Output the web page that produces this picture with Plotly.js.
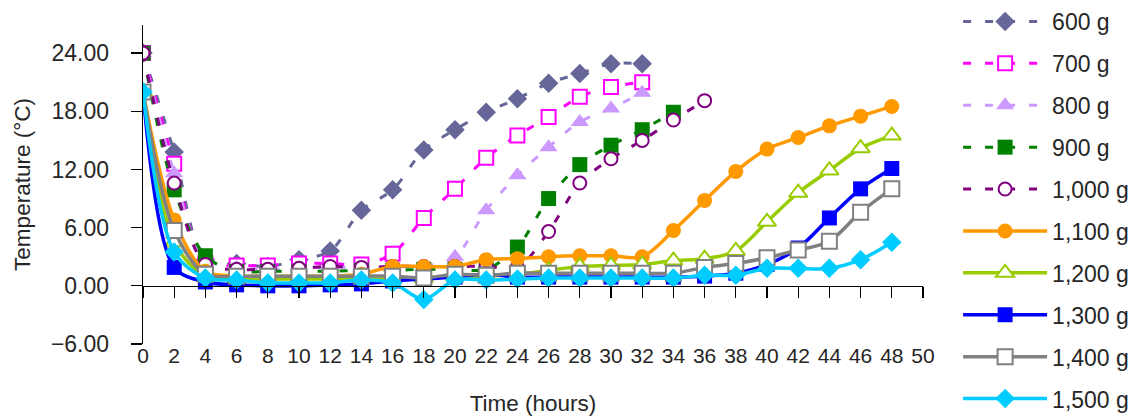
<!DOCTYPE html>
<html>
<head>
<meta charset="utf-8">
<script src="https://cdn.plot.ly/plotly-3.0.1.min.js"></script>
<style>html,body{margin:0;padding:0;background:#fff;}#chart{width:1133px;height:416px;}</style>
</head>
<body>
<div id="chart"></div>
<script>
// Time (hours)
var hours = [0,2,4,6,8,10,12,14,16,18,20,22,24,26,28,30,32,34,36,38,40,42,44,46,48];
var xTicks = [0,2,4,6,8,10,12,14,16,18,20,22,24,26,28,30,32,34,36,38,40,42,44,46,48,50];
var yTicks = [-6,0,6,12,18,24];
var seriesNames = ["600 g","700 g","800 g","900 g","1,000 g","1,100 g","1,200 g","1,300 g","1,400 g","1,500 g"];

// Temperature (°C) per mass
var t600  = [24.0,13.8,2.7,2.3,2.0,2.7,3.6,7.8,9.9,14.0,16.1,17.9,19.3,20.9,21.9,22.9,22.9];
var t700  = [24.0,12.6,2.3,2.1,2.1,2.3,2.3,2.2,3.3,7.0,10.0,13.2,15.5,17.4,19.5,20.5,21.0];
var t800  = [24.0,11.6,2.5,1.8,1.7,1.8,1.9,1.9,2.0,2.0,3.0,7.8,11.4,14.3,16.9,18.3,19.9];
var t900  = [24.0,9.9,3.1,1.5,1.5,1.5,1.5,1.6,1.6,1.7,1.7,1.7,4.0,9.0,12.5,14.5,16.1,17.9];
var t1000 = [24.0,10.6,2.2,1.7,1.7,1.8,2.0,1.9,2.0,2.0,2.0,2.0,1.9,5.6,10.6,13.1,15.0,17.1,19.1];
var t1100 = [20.0,6.8,1.5,1.0,1.0,1.0,1.0,1.2,2.0,2.0,2.0,2.7,2.8,3.0,3.1,3.1,3.0,5.7,8.8,11.8,14.1,15.3,16.5,17.5,18.5];
var t1200 = [20.0,4.5,1.0,0.7,0.7,0.7,0.7,0.7,0.7,0.8,1.0,1.0,1.2,1.6,2.0,2.1,2.2,2.6,2.8,3.6,6.6,9.6,11.9,14.2,15.5];
var t1300 = [20.0,1.9,0.4,0.1,0.0,0.0,0.1,0.2,0.5,0.7,0.9,1.2,0.9,0.9,0.9,0.9,0.9,0.9,1.0,1.3,2.2,3.9,7.0,10.0,12.1];
var t1400 = [20.0,5.7,1.2,1.0,1.0,1.0,1.0,1.0,1.0,0.8,1.2,1.1,1.3,1.3,1.3,1.3,1.3,1.3,1.9,2.3,2.9,3.7,4.6,7.6,10.0];
var t1500 = [20.0,3.5,0.8,0.6,0.3,0.3,0.3,0.6,0.3,-1.4,0.6,0.6,0.7,0.8,0.8,0.8,0.8,0.8,1.1,1.1,1.8,1.8,1.8,2.7,4.5];

var values = [t600,t700,t800,t900,t1000,t1100,t1200,t1300,t1400,t1500];
var colors = ["#666699","#FF00FF","#CC99FF","#008000","#800080","#FF9900","#99CC00","#0000FF","#808080","#00CCFF"];
var symbols = ["diamond","square","triangle-up","square","circle","circle","triangle-up","square","square","diamond"];
var openMarker = [false,true,false,false,true,false,true,false,true,false];
var dashed = [true,true,true,true,true,false,false,false,false,false];
var sizes = [15,14,16,15,13,15,16,15,15,15];

var traces = values.map(function(v,i){
  return {
    type:"scatter", mode:"lines+markers",
    name: seriesNames[i], legendgroup: "g"+i,
    x: hours.slice(0, v.length), y: v,
    line: {color: colors[i], width: dashed[i] ? 3 : 3.5, shape: "spline", smoothing: 0.9,
           dash: dashed[i] ? "8px,14px" : "solid"},
    marker: {symbol: symbols[i], size: sizes[i],
             color: openMarker[i] ? "#FFFFFF" : colors[i],
             line: {color: colors[i], width: openMarker[i] ? 2 : 0}},
    hoverinfo: "x+y+name"
  };
});

var font = {family: "Liberation Sans, Arial, sans-serif", color: "#262626"};
var yMin = -6, yMax = 26.9;
var plotTop = 25, plotH = 319;
function paperY(px){ return (plotTop + plotH - px) / plotH; }

var layout = {
  width: 1133, height: 416,
  margin: {l: 143, r: 210, t: 25, b: 72, autoexpand: false},
  paper_bgcolor: "#FFFFFF", plot_bgcolor: "#FFFFFF",
  font: font,
  showlegend: true,
  xaxis: {
    range: [0, 50], tickvals: xTicks, ticktext: xTicks.map(String),
    showgrid: false, zeroline: false, showline: true, linecolor: "#000", linewidth: 1.3,
    ticks: "outside", ticklen: 11, tickcolor: "#000", tickwidth: 1.3,
    anchor: "free", position: (0 - yMin) / (yMax - yMin),
    ticklabelstandoff: 40,
    tickfont: {family: font.family, size: 21, color: "#262626"},
    title: {text: "Time (hours)", font: {family: font.family, size: 22.5, color: "#262626"}, standoff: 29},
    fixedrange: true
  },
  yaxis: {
    range: [yMin, yMax], tickvals: yTicks, tickformat: ".2f",
    showgrid: false, zeroline: false, showline: true, linecolor: "#000", linewidth: 1.3,
    ticks: "outside", ticklen: 11, tickcolor: "#000", tickwidth: 1.3,
    ticklabelstandoff: 17,
    tickfont: {family: font.family, size: 23, color: "#262626"},
    title: {text: "Temperature (°C)", font: {family: font.family, size: 22.5, color: "#262626"}, standoff: 14},
    fixedrange: true
  },
  legend: {
    x: 1.045, xanchor: "left", y: paperY(0), yanchor: "top",
    maxheight: 416,
    font: {family: font.family, size: 23, color: "#262626"},
    itemwidth: 84, tracegroupgap: 9, bgcolor: "rgba(0,0,0,0)", traceorder: "grouped"
  }
};

Plotly.newPlot("chart", traces, layout, {displayModeBar: false, staticPlot: true});
</script>
</body>
</html>
